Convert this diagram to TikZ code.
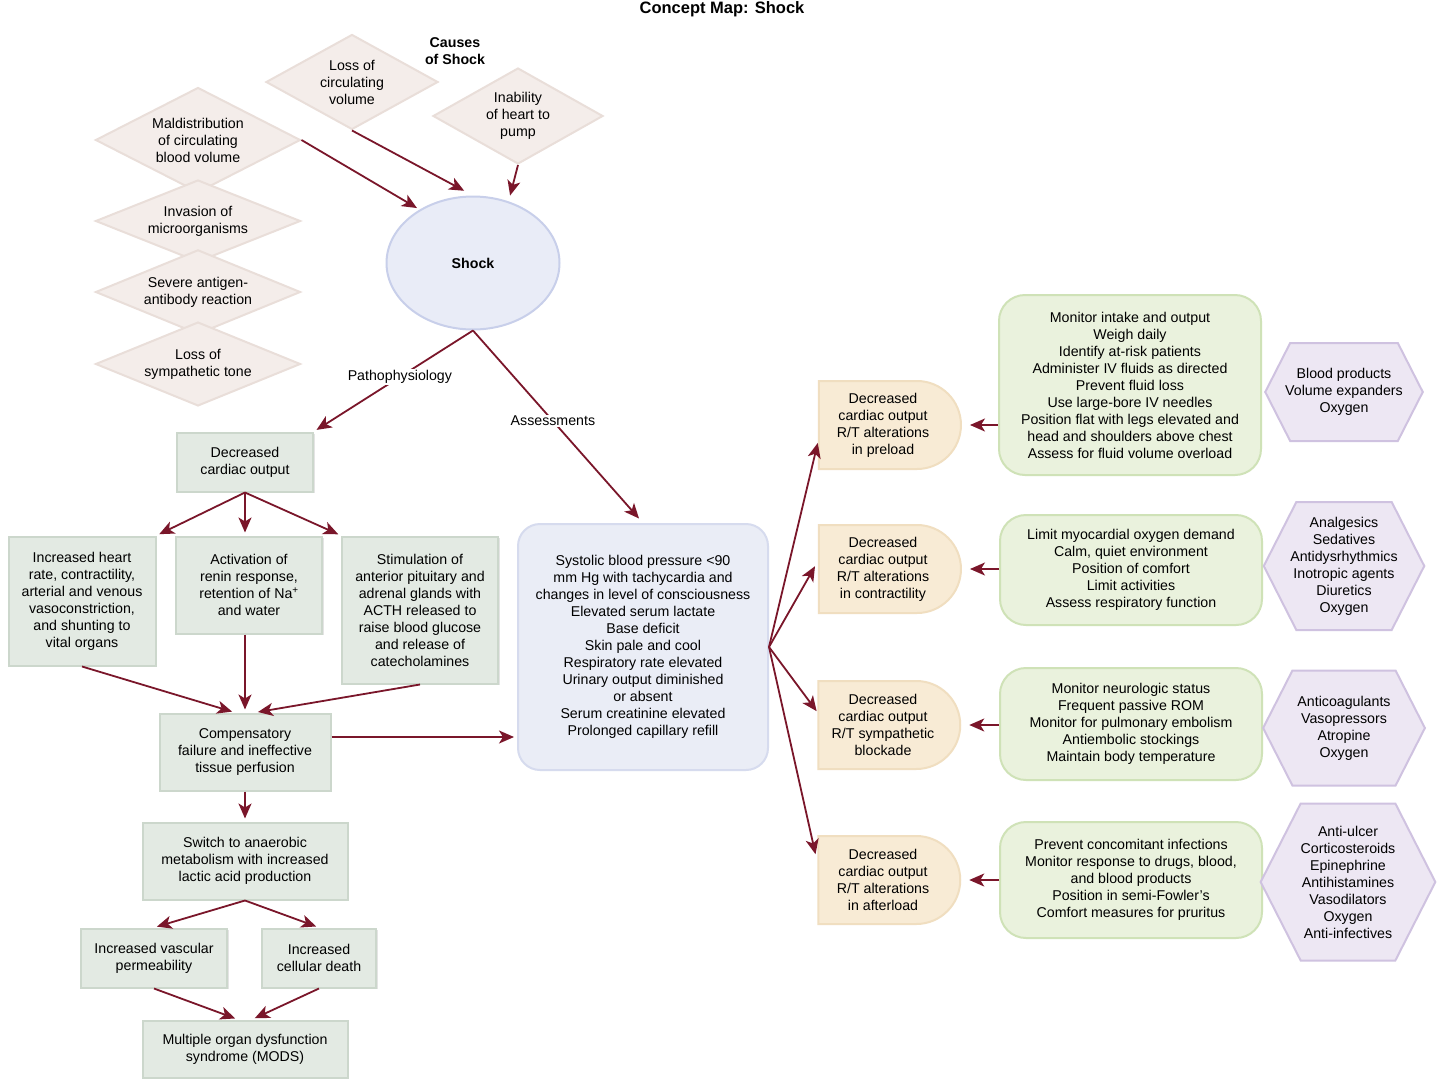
\documentclass[tikz,border=0pt]{standalone}
\usepackage{fontspec}
\setmainfont{Liberation Sans}
\usetikzlibrary{shapes.geometric,shapes.misc,shapes.symbols,arrows.meta,shadows}

\definecolor{linkred}{RGB}{122,22,42}
\definecolor{causefill}{RGB}{244,237,234}
\definecolor{causeline}{RGB}{233,222,217}
\definecolor{stepfill}{RGB}{227,234,227}
\definecolor{stepline}{RGB}{204,215,204}
\definecolor{shockfill}{RGB}{233,236,247}
\definecolor{shockline}{RGB}{200,207,234}
\definecolor{signfill}{RGB}{234,237,246}
\definecolor{signline}{RGB}{214,219,238}
\definecolor{dxfill}{RGB}{248,235,213}
\definecolor{dxline}{RGB}{240,222,192}
\definecolor{carefill}{RGB}{234,242,221}
\definecolor{careline}{RGB}{207,226,183}
\definecolor{drugfill}{RGB}{237,231,243}
\definecolor{drugline}{RGB}{207,194,224}

\newcommand{\mapfont}{\fontsize{14.2}{17}\selectfont}

\tikzset{
  causebox/.style={diamond, aspect=2, inner sep=0pt, fill=causefill, draw=causeline, line width=2pt, align=center},
  stepbox/.style={rectangle, inner sep=0pt, fill=stepfill, draw=stepline, line width=2pt, align=center,
    drop shadow={shadow xshift=1.5pt, shadow yshift=-1.5pt, fill=black!30, opacity=.35}},
  signbox/.style={rectangle, rounded corners=22pt, inner sep=0pt, fill=signfill, draw=signline, line width=2pt, align=center},
  dxbox/.style={rounded rectangle, rounded rectangle left arc=none, inner sep=0pt, minimum width=142pt, minimum height=88pt,
    fill=dxfill, draw=dxline, line width=2pt, align=center},
  carebox/.style={rectangle, rounded corners=26pt, inner sep=0pt, minimum width=262pt, fill=carefill, draw=careline, line width=2pt, align=center},
  drugbox/.style={signal, signal to=east and west, signal pointer angle=126, inner ysep=0pt, fill=drugfill, draw=drugline, line width=2pt, align=center},
  link/.style={draw=linkred, line width=1.8pt, shorten >=3pt, -{Stealth[length=15pt,width=13pt,inset=4pt]}},
  lbl/.style={fill=white, inner sep=1pt},
}

\begin{document}
\begin{tikzpicture}[x=1pt, y=-1pt, font=\mapfont]
\useasboundingbox[fill=white] (0,0) rectangle (1449,1090);
% titles
\node[font=\fontsize{16.5}{20}\selectfont\bfseries] (title) at (722,9) {Concept Map: Shock};
\node[font=\mapfont\bfseries, align=center] (causes) at (455,51) {Causes\\of Shock};
% causes of shock
\node[causebox, minimum width=172pt, minimum height=95pt] (loss) at (352,82) {Loss of\\circulating\\volume};
\node[causebox, minimum width=170pt, minimum height=96pt] (inab) at (518,116) {Inability\\of heart to\\pump};
\node[causebox, minimum width=205pt, minimum height=105pt] (mald) at (198,140) {Maldistribution\\of circulating\\blood volume};
\node[causebox, minimum width=205pt, minimum height=82pt] (inv) at (198,221) {Invasion of\\microorganisms};
\node[causebox, minimum width=205pt, minimum height=82pt] (sev) at (198,292) {Severe antigen-\\antibody reaction};
\node[causebox, minimum width=205pt, minimum height=82pt] (symtone) at (198,364) {Loss of\\sympathetic tone};
% shock
\node[ellipse, minimum width=173pt, minimum height=133pt, fill=shockfill, draw=shockline, line width=2pt,
  font=\mapfont\bfseries] (shock) at (473,263) {Shock};
% pathophysiology
\node[stepbox, minimum width=136pt, minimum height=59pt] (dco) at (245,462) {Decreased\\cardiac output};
\node[stepbox, minimum width=147pt, minimum height=129pt] (incr) at (82,601) {Increased heart\\rate, contractility,\\arterial and venous\\vasoconstriction,\\and shunting to\\vital organs};
\node[stepbox, minimum width=146pt, minimum height=97pt] (renin) at (249,585) {Activation of\\renin response,\\retention of Na\textsuperscript{+}\\and water};
\node[stepbox, minimum width=156pt, minimum height=147pt] (stim) at (420,610) {Stimulation of\\anterior pituitary and\\adrenal glands with\\ACTH released to\\raise blood glucose\\and release of\\catecholamines};
\node[stepbox, minimum width=171pt, minimum height=77pt] (comp) at (245,752) {Compensatory\\failure and ineffective\\tissue perfusion};
\node[stepbox, minimum width=205pt, minimum height=77pt] (switch) at (245,861) {Switch to anaerobic\\metabolism with increased\\lactic acid production};
\node[stepbox, minimum width=146pt, minimum height=59pt] (perm) at (154,958) {Increased vascular\\permeability};
\node[stepbox, minimum width=114pt, minimum height=59pt] (death) at (319,958) {Increased\\cellular death};
\node[stepbox, minimum width=205pt, minimum height=57pt] (mods) at (245,1049) {Multiple organ dysfunction\\syndrome (MODS)};
% assessments
\node[signbox, minimum width=250pt, minimum height=246pt] (assess) at (643,647) {Systolic blood pressure <90\\mm Hg with tachycardia and\\changes in level of consciousness\\Elevated serum lactate\\Base deficit\\Skin pale and cool\\Respiratory rate elevated\\Urinary output diminished\\or absent\\Serum creatinine elevated\\Prolonged capillary refill};
% diagnoses
\node[dxbox] (pre) at (883,425) {Decreased\\cardiac output\\R/T alterations\\in preload};
\node[dxbox] (contr) at (883,569) {Decreased\\cardiac output\\R/T alterations\\in contractility};
\node[dxbox] (symp) at (883,725) {Decreased\\cardiac output\\R/T sympathetic\\blockade};
\node[dxbox] (after) at (883,880) {Decreased\\cardiac output\\R/T alterations\\in afterload};
% nursing care
\node[carebox, minimum height=180pt] (care1) at (1130,385) {Monitor intake and output\\Weigh daily\\Identify at-risk patients\\Administer IV fluids as directed\\Prevent fluid loss\\Use large-bore IV needles\\Position flat with legs elevated and\\head and shoulders above chest\\Assess for fluid volume overload};
\node[carebox, minimum height=110pt] (care2) at (1131,570) {Limit myocardial oxygen demand\\Calm, quiet environment\\Position of comfort\\Limit activities\\Assess respiratory function};
\node[carebox, minimum height=112pt] (care3) at (1131,724) {Monitor neurologic status\\Frequent passive ROM\\Monitor for pulmonary embolism\\Antiembolic stockings\\Maintain body temperature};
\node[carebox, minimum height=116pt] (care4) at (1131,880) {Prevent concomitant infections\\Monitor response to drugs, blood,\\and blood products\\Position in semi-Fowler’s\\Comfort measures for pruritus};
% drugs
\node[drugbox, inner xsep=-5pt, minimum height=98pt] (drug1) at (1344,392) {Blood products\\Volume expanders\\Oxygen};
\node[drugbox, inner xsep=-6pt, minimum height=128pt] (drug2) at (1344,566) {Analgesics\\Sedatives\\Antidysrhythmics\\Inotropic agents\\Diuretics\\Oxygen};
\node[drugbox, inner xsep=5pt, minimum height=115pt] (drug3) at (1344,728) {Anticoagulants\\Vasopressors\\Atropine\\Oxygen};
\node[drugbox, inner xsep=0pt, minimum height=157pt] (drug4) at (1348,882) {Anti-ulcer\\Corticosteroids\\Epinephrine\\Antihistamines\\Vasodilators\\Oxygen\\Anti-infectives};
% causes -> shock
\draw[link] (mald.east) -- (shock.135);
\draw[link, shorten >=10pt] (loss.south) -- (shock.north);
\draw[link, shorten >=6pt] (inab.south) -- (shock.60);
% shock -> branches
\draw[link] (shock.south) -- node[lbl, pos=.46] {Pathophysiology} (dco.north east);
\draw[link, shorten >=6pt] (shock.south) -- node[lbl, pos=.47] {Assessments} (assess.north);
% compensation
\draw[link] (dco.south) -- (incr.north east);
\draw[link] (dco.south) -- (renin.north -| dco.south);
\draw[link] (dco.south) -- (stim.north west);
\draw[link] (incr.south) -- ([xshift=-10pt]comp.north);
\draw[link] (renin.south -| comp.north) -- (comp.north);
\draw[link] (stim.south) -- ([xshift=10pt]comp.north);
\draw[link] ([yshift=15pt]comp.east) -- ([yshift=15pt]comp.east -| assess.west);
% decompensation
\draw[link] (comp.south) -- (switch.north);
\draw[link] (switch.south) -- (perm.north);
\draw[link] (switch.south) -- (death.north);
\draw[link] (perm.south) -- ([xshift=-7pt]mods.north);
\draw[link] (death.south) -- ([xshift=7pt]mods.north);
% assessments -> diagnoses
\draw[link, shorten >=1pt] (assess.east) -- ([yshift=-17pt]pre.west);
\draw[link, shorten >=6pt] (assess.east) -- ([yshift=8pt]contr.west);
\draw[link, shorten >=1pt] (assess.east) -- ([yshift=13pt]symp.west);
\draw[link, shorten >=8pt] (assess.east) -- ([yshift=18pt]after.west);
% care -> diagnoses
\draw[link, shorten >=8pt] (care1.west |- pre.east) -- (pre.east);
\draw[link, shorten >=8pt] (care2.west |- contr.east) -- (contr.east);
\draw[link, shorten >=8pt] (care3.west |- symp.east) -- (symp.east);
\draw[link, shorten >=8pt] (care4.west |- after.east) -- (after.east);
\end{tikzpicture}
\end{document}
